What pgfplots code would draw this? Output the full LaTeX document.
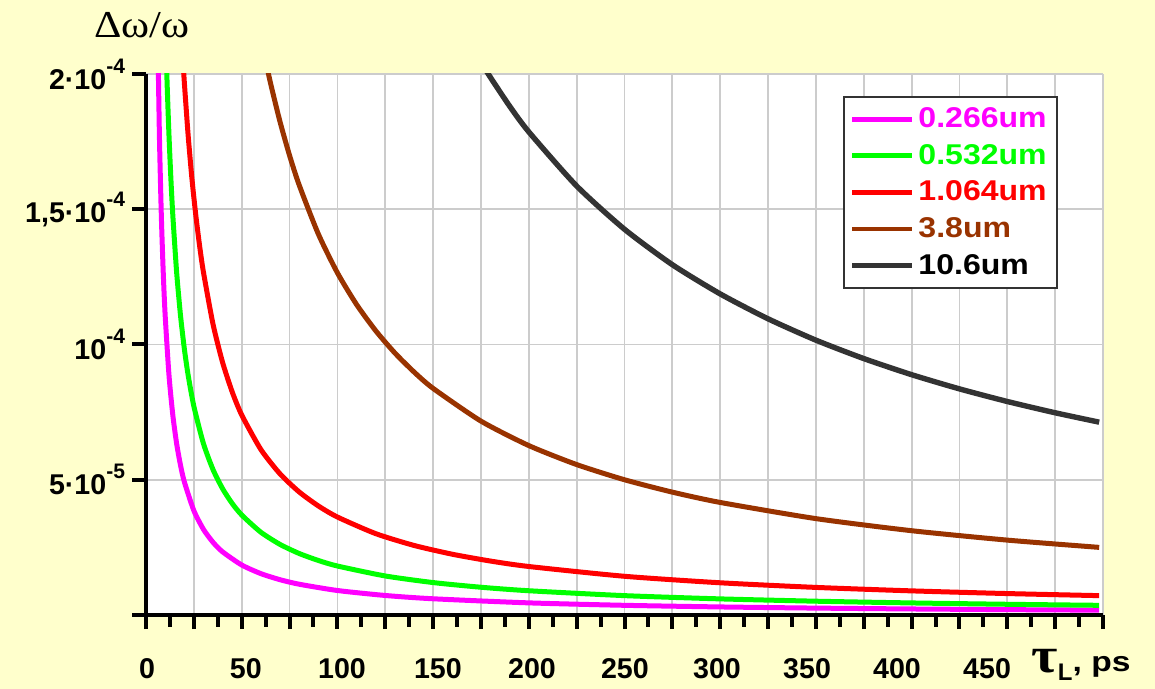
\documentclass[border=0pt]{standalone}
\usepackage{pgfplots}
\pgfplotsset{compat=1.18}
\usepackage{fontspec}
\setmainfont{Liberation Sans}
\newfontfamily\serif{Liberation Serif}
\definecolor{bg}{RGB}{255,255,204}
\definecolor{cmag}{RGB}{255,0,255}
\definecolor{cgrn}{RGB}{0,255,0}
\definecolor{cred}{RGB}{255,0,0}
\definecolor{cbrn}{RGB}{153,51,0}
\definecolor{cblk}{RGB}{51,51,51}
\newcommand{\pw}[1]{\raisebox{8pt}{\fontsize{10.5}{12}\selectfont #1}}
\newcommand{\sh}[2]{\makebox[0pt]{\hspace*{#1}#2\hspace*{-#1}}}
\begin{document}
\begin{tikzpicture}
\useasboundingbox (-73pt,-37pt) rectangle (504.5pt,307.5pt);
\fill[bg] (-73pt,-37pt) rectangle (504.5pt,307.5pt);
\begin{axis}[
 scale only axis, width=478.5pt, height=270.5pt,
 at={(0,0)}, anchor=south west,
 xmin=0, xmax=500, ymin=0, ymax=20,
 axis x line*=bottom, axis y line*=left,
 axis line style={line width=2.4pt, black, -},
 axis background/.style={fill=white},
 xtick={0,25,...,500},
 xticklabels={\sh{0.5pt}{0},,\sh{2.1pt}{50},,\sh{2.3pt}{100},,\sh{2.4pt}{150},,\sh{1.6pt}{200},,\sh{0.2pt}{250},,\sh{-1.6pt}{300},,\sh{-4.4pt}{350},,\sh{-7.3pt}{400},,\sh{-10.1pt}{450},,},
 minor x tick num=1,
 ytick={0,5,10,15,20},
 yticklabels={,{5·10\pw{-5}},{10\pw{-4}},{1,5·10\pw{-4}},{2·10\pw{-4}}},
 grid=major, grid style={black!20, line width=0.9pt},
 tick align=outside,
 major tick length=7pt, minor tick length=6pt,
 tick style={black, line width=2pt},
 xticklabel style={font=\fontsize{14.3}{16}\selectfont\bfseries, yshift=-11pt},
 yticklabel style={font=\fontsize{14.3}{16}\selectfont\bfseries},
 legend style={at={(rel axis cs:0.728,0.959)}, anchor=north west, draw=black!80, line width=1pt, fill=white,
   font=\fontsize{14.3}{16}\selectfont\bfseries, row sep=2.8pt, inner xsep=3pt, inner ysep=3.3pt, cells={anchor=west}},
 legend image code/.code={\draw[#1, line width=2.4pt] (0pt,0pt) -- (30pt,0pt);},
 clip mode=individual,
 every axis plot/.append style={smooth, tension=0.4},
]
\addplot[cmag, line width=2.5pt] coordinates {
(6,22.185)(7,17.748)(8,14.79)(9,12.677)(10,11.0925)(12,8.874)(14,7.395)(16,6.339)(18,5.546)(20,4.930)
(25,3.858)(30,3.169)(35,2.689)(40,2.335)(50,1.849)(60,1.530)(70,1.305)(80,1.138)(100,0.9055)(125,0.7215)
(150,0.5996)(200,0.4482)(250,0.3578)(300,0.2978)(350,0.2550)(400,0.2230)(450,0.1981)(498,0.1789)};
\addlegendentry{\scalebox{1.12}[1]{\textcolor{cmag}{0.266um}}}
\addplot[cgrn, line width=2.5pt] coordinates {
(10,22.185)(11,19.72)(12,17.748)(13,16.135)(14,14.79)(16,12.677)(18,11.0925)(20,9.860)(22,8.874)(25,7.717)
(30,6.339)(35,5.378)(40,4.671)(45,4.127)(50,3.6975)(60,3.060)(70,2.610)(80,2.275)(90,2.017)(100,1.811)
(125,1.443)(150,1.199)(175,1.026)(200,0.8964)(250,0.7156)(300,0.5956)(350,0.5100)(400,0.4459)(450,0.3962)(498,0.3578)};
\addlegendentry{\scalebox{1.12}[1]{\textcolor{cgrn}{0.532um}}}
\addplot[cred, line width=2.5pt] coordinates {
(18,22.18)(19,20.88)(20,19.72)(22,17.75)(24,16.13)(26,14.79)(28,13.65)(30,12.68)(35,10.756)(40,9.341)
(45,8.255)(50,7.395)(60,6.120)(70,5.220)(80,4.551)(90,4.034)(100,3.622)(120,3.008)(140,2.572)(160,2.247)
(180,1.994)(200,1.793)(250,1.431)(300,1.191)(350,1.020)(400,0.8918)(450,0.7923)(498,0.7156)};
\addlegendentry{\scalebox{1.12}[1]{\textcolor{cred}{1.064um}}}
\addplot[cbrn, line width=2.5pt] coordinates {
(60,21.38)(62,20.67)(65,19.68)(70,18.24)(75,16.99)(80,15.90)(90,14.09)(100,12.65)(110,11.48)(120,10.51)
(130,9.688)(140,8.986)(150,8.378)(175,7.168)(200,6.263)(225,5.561)(250,5.000)(275,4.542)(300,4.161)
(350,3.563)(400,3.116)(450,2.768)(498,2.500)};
\addlegendentry{\scalebox{1.12}[1]{\textcolor{cbrn}{3.8um}}}
\addplot[cblk, line width=2.7pt] coordinates {
(175,20.44)(180,19.87)(190,18.81)(200,17.86)(225,15.86)(250,14.26)(275,12.95)(300,11.87)(325,10.95)
(350,10.16)(375,9.480)(400,8.884)(425,8.359)(450,7.893)(475,7.476)(498,7.129)};
\addlegendentry{\scalebox{1.12}[1]{\textcolor{black}{10.6um}}}
\node[inner sep=0] at (rel axis cs:-0.004,1.0906) {\scalebox{1.12}[1]{\serif\fontsize{19}{21}\selectfont Δω/ω}};
\node[anchor=base west, inner sep=0, yshift=-28.5pt] at (rel axis cs:0.925,0)
 {\scalebox{1.3}[1.15]{\serif\bfseries\fontsize{22}{24}\selectfont τ}\raisebox{-4.5pt}{\bfseries\fontsize{12}{13}\selectfont L}\scalebox{1.2}[1]{\bfseries\fontsize{14}{16}\selectfont , ps}};
\end{axis}
\end{tikzpicture}
\end{document}
